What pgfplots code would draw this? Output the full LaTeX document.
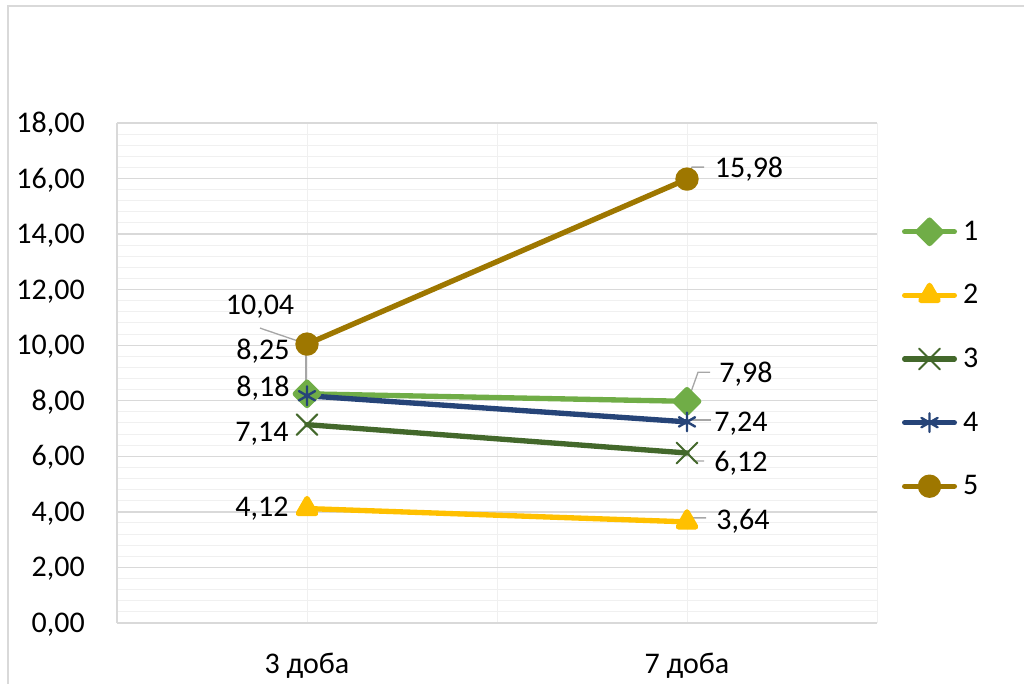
\documentclass[border=0pt]{standalone}
\usepackage{fontspec}
\setmainfont{Carlito}
\usepackage{pgfplots}
\pgfplotsset{compat=1.18}
\definecolor{c1}{HTML}{70AD47}
\definecolor{c2}{HTML}{FFC000}
\definecolor{c3}{HTML}{43682B}
\definecolor{c4}{HTML}{264478}
\definecolor{c5}{HTML}{9E7700}
\definecolor{majg}{HTML}{D9D9D9}
\definecolor{ming}{HTML}{F0F0F0}
\definecolor{leadc}{HTML}{A6A6A6}
\begin{document}
\begin{tikzpicture}[font=\fontsize{22.5}{27}\selectfont,
  lab/.style={inner sep=0pt, text depth=0pt, text height=14.2pt, anchor=center, text=black},
  lead/.style={draw=leadc, line width=1pt}]
\path[use as bounding box] (0,0) rectangle (768pt,513pt);
\draw[majg, line width=1pt] (6pt,0pt) -- (6pt,508.5pt) -- (768pt,508.5pt);
\begin{axis}[
  at={(87.75pt,45.75pt)}, anchor=south west,
  width=570pt, height=375pt, scale only axis,
  xmin=-0.5, xmax=1.5, ymin=0, ymax=18,
  xtick={0,1}, xticklabels={3 доба,7 доба},
  minor xtick={-0.5,0.5,1.5},
  ytick={0,2,...,18}, minor y tick num=4,
  grid=both,
  major y grid style={majg, line width=1pt},
  minor y grid style={ming, line width=0.75pt},
  major x grid style={ming, line width=0.75pt},
  minor x grid style={ming, line width=0.75pt},
  major tick length=0pt, minor tick length=0pt,
  axis x line*=bottom, axis y line*=left,
  axis line style={-, majg, line width=1.2pt},
  xticklabel style={anchor=base, inner sep=0pt, yshift=-37.9pt},
  yticklabel style={anchor=base east, inner sep=0pt, xshift=-24pt, yshift=-7.1pt},
  every axis plot/.append style={line width=4pt, line join=round, line cap=round},
  legend style={at={(axis description cs:1.0329,0.528)}, anchor=west, draw=none, fill=none,
    inner sep=0pt, outer sep=0pt, row sep=27.7pt, column sep=4.5pt,
    nodes={inner sep=0pt},
    /tikz/every even column/.style={text depth=0pt, text height=14.2pt}},
  legend cell align=left,
  legend image code/.code={%
    \pgfpathrectangle{\pgfpoint{-2pt}{-10pt}}{\pgfpoint{41.25pt}{20pt}}%
    \pgfusepath{use as bounding box}%
    \draw[mark repeat=2,mark phase=2,#1] plot coordinates {(0pt,0pt)(18.625pt,0pt)(37.25pt,0pt)};},
  /pgf/number format/.cd, fixed, fixed zerofill, precision=2, use comma, assume math mode=true
]
\addplot[c1, mark=square*, mark size=6.2pt, mark options={rotate=45, fill=c1}] coordinates {(0,8.25) (1,7.98)};
\addlegendentry{1}
\addplot[c2, mark=triangle*, mark size=7.5pt, mark options={fill=c2}] coordinates {(0,4.12) (1,3.64)};
\addlegendentry{2}
\addplot[c3, mark=x, mark size=11pt, mark options={line width=1.5pt}] coordinates {(0,7.14) (1,6.12)};
\addlegendentry{3}
\addplot[c4, mark=asterisk, mark size=7pt, mark options={line width=1.8pt}] coordinates {(0,8.18) (1,7.24)};
\addlegendentry{4}
\addplot[c5, mark=*, mark size=6.75pt, mark options={fill=c5}] coordinates {(0,10.04) (1,15.98)};
\addlegendentry{5}

% leader lines
\draw[lead] (axis cs:0,10.04) -- ++(-35.25pt,12pt);
\draw[lead] (axis cs:0,8.25) ++(-0.75pt,-2.25pt) -- ++(0pt,36.75pt) -- ++(-7.5pt,0pt);
\draw[lead] (axis cs:1,15.98) ++(0.75pt,0.75pt) -- ++(3pt,8.25pt) -- ++(9pt,0pt);
\draw[lead] (axis cs:1,7.98) ++(0.75pt,0.75pt) -- ++(7.5pt,21pt) -- ++(9pt,0pt);
\draw[lead] (axis cs:1,7.24) ++(3pt,1.5pt) -- ++(15pt,0pt);
\draw[lead] (axis cs:1,6.12) ++(0.75pt,0pt) -- ++(4.5pt,-6pt) -- ++(7.5pt,0pt);
\draw[lead] (axis cs:1,3.64) ++(0.75pt,0pt) -- ++(3.75pt,3pt) -- ++(9.75pt,0pt);

% data labels
\node[lab, xshift=-35.25pt, yshift=29.25pt] at (axis cs:0,10.04) {10,04};
\node[lab, xshift=-33pt, yshift=33pt] at (axis cs:0,8.25) {8,25};
\node[lab, xshift=-33pt, yshift=6.75pt] at (axis cs:0,8.18) {8,18};
\node[lab, xshift=-33.75pt, yshift=-5.25pt] at (axis cs:0,7.14) {7,14};
\node[lab, xshift=-33.75pt, yshift=1.5pt] at (axis cs:0,4.12) {4,12};
\node[lab, xshift=46.5pt, yshift=8.25pt] at (axis cs:1,15.98) {15,98};
\node[lab, xshift=44.25pt, yshift=21pt] at (axis cs:1,7.98) {7,98};
\node[lab, xshift=40.5pt, yshift=0pt] at (axis cs:1,7.24) {7,24};
\node[lab, xshift=40.5pt, yshift=-6.75pt] at (axis cs:1,6.12) {6,12};
\node[lab, xshift=42pt, yshift=1.5pt] at (axis cs:1,3.64) {3,64};
\end{axis}
\end{tikzpicture}
\end{document}
